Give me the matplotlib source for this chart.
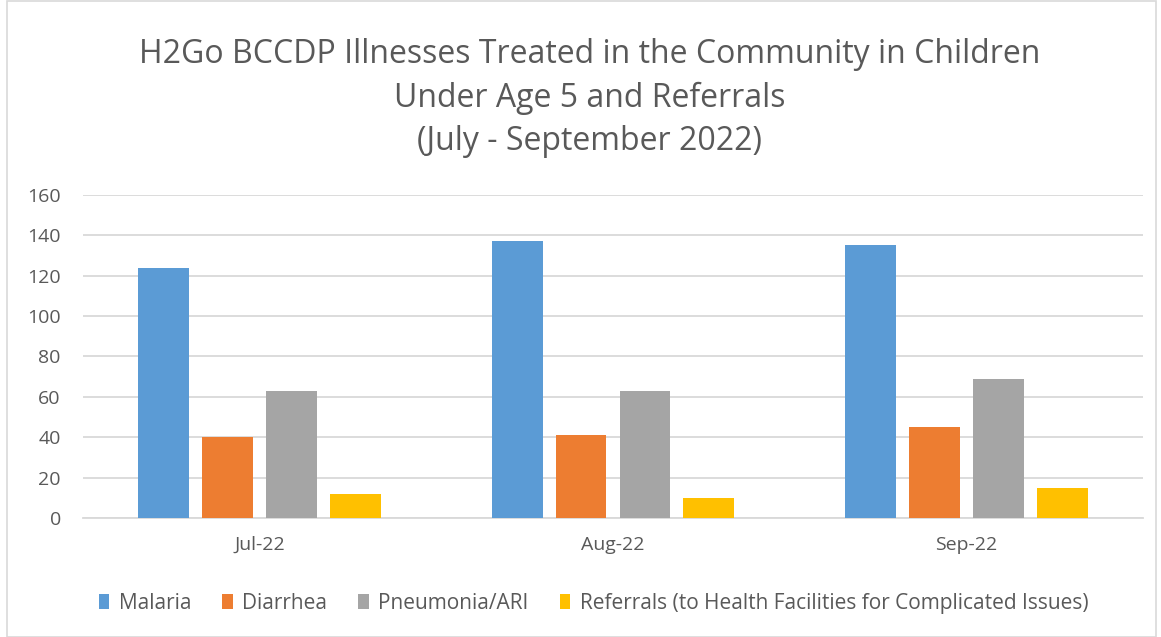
import numpy as np
import matplotlib.pyplot as plt
from matplotlib.patches import Rectangle

# datos del grafico
meses = ['Jul-22', 'Aug-22', 'Sep-22']
malaria = [124, 137, 135]
diarrea = [40, 41, 45]
neumonia = [63, 63, 69]
referencias = [12, 10, 15]

series = ['Malaria', 'Diarrhea', 'Pneumonia/ARI',
          'Referrals (to Health Facilities for Complicated Issues)']
colores = ['#5B9BD5', '#ED7D31', '#A5A5A5', '#FFC000']

plt.rcParams['font.family'] = ['Open Sans', 'DejaVu Sans']
gris = '#595959'

fig = plt.figure(figsize=(11.61, 6.37), dpi=100)
ax = fig.add_axes([0.0715, 0.1868, 0.913, 0.5071])

x = np.arange(len(meses))
ancho = 0.144
paso = 0.181
valores = [malaria, diarrea, neumonia, referencias]
for i, (vals, nombre, c) in enumerate(zip(valores, series, colores)):
    ax.bar(x + (i - 1.5) * paso, vals, ancho, color=c, label=nombre, zorder=3)

ax.set_xlim(-0.5, 2.5)
ax.set_ylim(0, 160)
ax.set_yticks(range(0, 161, 20))
ax.set_xticks(x)
ax.set_xticklabels(meses)
ax.grid(axis='y', color='#D9D9D9', linewidth=1.3, zorder=0)
for s in ['top', 'right', 'left']:
    ax.spines[s].set_visible(False)
ax.spines['bottom'].set_color('#D9D9D9')
ax.spines['bottom'].set_linewidth(1.3)
ax.tick_params(length=0, colors=gris, labelsize=14)
ax.tick_params(axis='x', pad=13)
ax.tick_params(axis='y', pad=16)

fig.text(0.508, 0.846, 'H2Go BCCDP Illnesses Treated in the Community in Children\n'
         'Under Age 5 and Referrals\n(July - September 2022)',
         ha='center', va='center', fontsize=23, color=gris, linespacing=1.42)

ax.legend(loc='center', bbox_to_anchor=(0.4816, -0.265), ncol=4, frameon=False,
          fontsize=15, labelcolor=gris, handlelength=0.5, handleheight=0.75,
          handletextpad=0.45, columnspacing=1.5)

fig.patches.append(Rectangle((0.006, 0.0), 0.99, 0.999, transform=fig.transFigure,
                             fill=False, edgecolor='#D9D9D9', linewidth=1.2))

plt.savefig('out.png', dpi=100)
plt.close()
